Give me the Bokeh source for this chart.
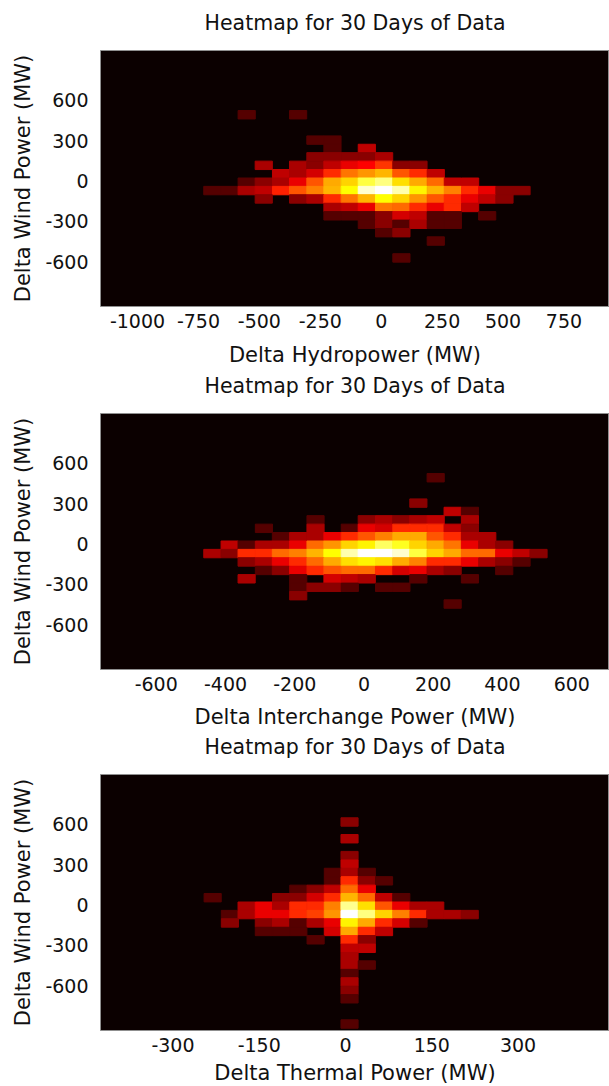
from bokeh.plotting import figure
from bokeh.models import ColumnDataSource, LogColorMapper, FixedTicker, Range1d, LinearAxis
from bokeh.layouts import column
from bokeh.embed import file_html
from bokeh.resources import INLINE

TITLE = "Heatmap for 30 Days of Data"
Y_LABEL = "Delta Wind Power (MW)"
X_LABELS = ["Delta Hydropower (MW)", "Delta Interchange Power (MW)", "Delta Thermal Power (MW)"]

# bin centres (MW)
wind_bins = [615, 553, 491, 428, 366, 303, 241, 179, 116, 54, -9, -71, -133,
             -196, -258, -321, -383, -445, -508, -570, -633, -695, -757, -820, -882]
wind_bin_height = 62.4
hydro_bins = [-693, -623, -552, -482, -411, -341, -270, -200, -129, -59,
              12, 83, 153, 224, 294, 365, 435, 506, 576, 647]
hydro_bin_width = 70.5
interchange_bins = [-438, -388, -339, -289, -240, -190, -140, -91, -41, 8,
                    58, 108, 157, 207, 256, 306, 356, 405, 455, 504]
interchange_bin_width = 49.6
thermal_bins = [-231, -201, -172, -142, -112, -82, -52, -22, 7, 37,
                67, 97, 127, 156, 186, 216, 246, 276, 306, 335]
thermal_bin_width = 29.8

wind_ticks = [-600, -300, 0, 300, 600]
hydro_ticks = [-1000, -750, -500, -250, 0, 250, 500, 750]
interchange_ticks = [-600, -400, -200, 0, 200, 400, 600]
thermal_ticks = [-300, -150, 0, 150, 300]

# counts: rows follow wind_bins (top to bottom), columns follow x bins
hydro_counts = [
    [0,0,0,0,0,0,0,0,0,0,0,0,0,0,0,0,0,0,0,0],
    [0,0,0,0,0,0,0,0,0,0,0,0,0,0,0,0,0,0,0,0],
    [0,0,1,0,0,1,0,0,0,0,0,0,0,0,0,0,0,0,0,0],
    [0,0,0,0,0,0,0,0,0,0,0,0,0,0,0,0,0,0,0,0],
    [0,0,0,0,0,0,0,0,0,0,0,0,0,0,0,0,0,0,0,0],
    [0,0,0,0,0,0,1,1,0,0,0,0,0,0,0,0,0,0,0,0],
    [0,0,0,0,0,0,0,1,0,4,0,0,0,0,0,0,0,0,0,0],
    [0,0,0,0,0,0,2,2,2,2,3,0,0,0,0,0,0,0,0,0],
    [0,0,0,3,0,3,2,4,6,7,12,2,2,0,0,0,0,0,0,0],
    [0,0,0,0,4,3,5,11,22,29,37,16,11,4,0,0,0,0,0,0],
    [0,0,1,2,3,6,16,33,48,107,156,56,33,19,4,4,0,0,0,0],
    [1,1,3,4,10,16,24,37,75,242,323,191,65,37,24,11,6,2,2,0],
    [0,0,0,2,0,2,3,11,22,37,75,48,29,16,11,6,4,2,0,0],
    [0,0,0,0,0,0,0,3,4,6,22,19,11,6,11,4,0,0,0,0],
    [0,0,0,0,0,0,0,1,1,1,2,5,4,1,1,0,1,0,0,0],
    [0,0,0,0,0,0,0,0,0,1,2,1,3,1,1,0,0,0,0,0],
    [0,0,0,0,0,0,0,0,0,0,1,2,0,0,0,0,0,0,0,0],
    [0,0,0,0,0,0,0,0,0,0,0,0,0,1,0,0,0,0,0,0],
    [0,0,0,0,0,0,0,0,0,0,0,0,0,0,0,0,0,0,0,0],
    [0,0,0,0,0,0,0,0,0,0,0,1,0,0,0,0,0,0,0,0],
    [0,0,0,0,0,0,0,0,0,0,0,0,0,0,0,0,0,0,0,0],
    [0,0,0,0,0,0,0,0,0,0,0,0,0,0,0,0,0,0,0,0],
    [0,0,0,0,0,0,0,0,0,0,0,0,0,0,0,0,0,0,0,0],
    [0,0,0,0,0,0,0,0,0,0,0,0,0,0,0,0,0,0,0,0],
    [0,0,0,0,0,0,0,0,0,0,0,0,0,0,0,0,0,0,0,0],
]

interchange_counts = [
    [0,0,0,0,0,0,0,0,0,0,0,0,0,0,0,0,0,0,0,0],
    [0,0,0,0,0,0,0,0,0,0,0,0,0,0,0,0,0,0,0,0],
    [0,0,0,0,0,0,0,0,0,0,0,0,0,1,0,0,0,0,0,0],
    [0,0,0,0,0,0,0,0,0,0,0,0,0,0,0,0,0,0,0,0],
    [0,0,0,0,0,0,0,0,0,0,0,0,0,0,0,0,0,0,0,0],
    [0,0,0,0,0,0,0,0,0,0,0,0,2,0,0,0,0,0,0,0],
    [0,0,0,0,0,0,0,0,0,0,0,0,0,0,4,1,0,0,0,0],
    [0,0,0,0,0,0,1,0,0,2,3,2,3,4,0,3,0,0,0,0],
    [0,0,0,1,0,0,3,0,1,6,5,11,11,11,4,2,0,0,0,0],
    [0,0,0,0,1,3,3,6,11,16,24,33,33,16,11,3,3,0,0,0],
    [0,4,1,3,3,6,19,29,48,63,127,90,48,33,22,6,3,2,0,0],
    [3,2,11,11,19,24,37,75,191,323,310,227,107,48,33,19,19,6,4,2],
    [0,0,2,3,6,11,19,33,56,65,56,33,24,11,11,6,3,2,1,0],
    [0,0,0,1,2,6,11,16,19,19,11,5,6,3,2,0,0,1,0,0],
    [0,0,3,0,0,1,0,5,4,3,0,0,1,0,0,1,0,0,0,0],
    [0,0,0,0,0,1,2,2,1,0,1,1,0,0,0,0,0,0,0,0],
    [0,0,0,0,0,2,0,0,0,0,0,0,0,0,0,0,0,0,0,0],
    [0,0,0,0,0,0,0,0,0,0,0,0,0,0,1,0,0,0,0,0],
    [0,0,0,0,0,0,0,0,0,0,0,0,0,0,0,0,0,0,0,0],
    [0,0,0,0,0,0,0,0,0,0,0,0,0,0,0,0,0,0,0,0],
    [0,0,0,0,0,0,0,0,0,0,0,0,0,0,0,0,0,0,0,0],
    [0,0,0,0,0,0,0,0,0,0,0,0,0,0,0,0,0,0,0,0],
    [0,0,0,0,0,0,0,0,0,0,0,0,0,0,0,0,0,0,0,0],
    [0,0,0,0,0,0,0,0,0,0,0,0,0,0,0,0,0,0,0,0],
    [0,0,0,0,0,0,0,0,0,0,0,0,0,0,0,0,0,0,0,0],
]

thermal_counts = [
    [0,0,0,0,0,0,0,0,2,0,0,0,0,0,0,0,0,0,0,0],
    [0,0,0,0,0,0,0,0,0,0,0,0,0,0,0,0,0,0,0,0],
    [0,0,0,0,0,0,0,0,3,0,0,0,0,0,0,0,0,0,0,0],
    [0,0,0,0,0,0,0,0,0,0,0,0,0,0,0,0,0,0,0,0],
    [0,0,0,0,0,0,0,0,2,0,0,0,0,0,0,0,0,0,0,0],
    [0,0,0,0,0,0,0,0,4,0,0,0,0,0,0,0,0,0,0,0],
    [0,0,0,0,0,0,0,1,3,1,0,0,0,0,0,0,0,0,0,0],
    [0,0,0,0,0,0,0,1,11,2,1,0,0,0,0,0,0,0,0,0],
    [0,0,0,0,0,1,2,4,19,6,0,0,0,0,0,0,0,0,0,0],
    [1,0,0,0,2,2,5,11,37,19,4,1,0,0,0,0,0,0,0,0],
    [0,0,3,6,3,11,11,24,170,56,16,6,3,3,0,0,0,0,0,0],
    [0,1,3,6,6,11,14,29,323,156,48,24,11,3,3,2,0,0,0,0],
    [0,2,0,2,3,1,3,6,65,33,11,5,1,0,0,0,0,0,0,0],
    [0,0,0,1,1,1,0,5,33,11,4,0,0,0,0,0,0,0,0,0],
    [0,0,0,0,0,0,1,0,11,2,0,0,0,0,0,0,0,0,0,0],
    [0,0,0,0,0,0,0,0,4,4,0,0,0,0,0,0,0,0,0,0],
    [0,0,0,0,0,0,0,0,3,0,0,0,0,0,0,0,0,0,0,0],
    [0,0,0,0,0,0,0,0,3,1,0,0,0,0,0,0,0,0,0,0],
    [0,0,0,0,0,0,0,0,1,0,0,0,0,0,0,0,0,0,0,0],
    [0,0,0,0,0,0,0,0,3,0,0,0,0,0,0,0,0,0,0,0],
    [0,0,0,0,0,0,0,0,2,0,0,0,0,0,0,0,0,0,0,0],
    [0,0,0,0,0,0,0,0,1,0,0,0,0,0,0,0,0,0,0,0],
    [0,0,0,0,0,0,0,0,0,0,0,0,0,0,0,0,0,0,0,0],
    [0,0,0,0,0,0,0,0,0,0,0,0,0,0,0,0,0,0,0,0],
    [0,0,0,0,0,0,0,0,1,0,0,0,0,0,0,0,0,0,0,0],
]


def hot_palette(m=64):
    n = int(3 * m / 8)
    cols = []
    for i in range(m):
        r = min(1.0, (i + 1) / n)
        g = min(1.0, max(0.0, (i + 1 - n) / n))
        b = max(0.0, (i + 1 - 2 * n) / (m - 2 * n))
        cols.append("#%02x%02x%02x" % (round(r * 255), round(g * 255), round(b * 255)))
    return cols


HOT = hot_palette(64)
FONT = "DejaVu Sans"
TXT = "#111111"


def style_axis(ax, label_size):
    ax.axis_line_color = None
    ax.major_tick_line_color = None
    ax.minor_tick_line_color = None
    ax.major_tick_in = 0
    ax.major_tick_out = 0
    ax.minor_tick_in = 0
    ax.minor_tick_out = 0
    ax.major_label_text_font = FONT
    ax.major_label_text_font_size = "19px"
    ax.major_label_text_color = TXT
    ax.axis_label_text_font = FONT
    ax.axis_label_text_font_size = label_size
    ax.axis_label_text_font_style = "normal"
    ax.axis_label_text_color = TXT


def make_panel(xlabel, x_bins, bin_w, counts, x_range, x_ticks, top, bottom,
               tick_standoff, label_standoff):
    p = figure(frame_width=509, frame_height=256, output_backend="svg", toolbar_location=None,
               x_range=Range1d(*x_range), y_range=Range1d(-930, 967),
               min_border_left=100, min_border_right=0,
               min_border_top=top, min_border_bottom=bottom)
    xs, ys, cs = [], [], []
    for i, yb in enumerate(wind_bins):
        for j, xb in enumerate(x_bins):
            c = counts[i][j]
            if c > 0:
                xs.append(xb)
                ys.append(yb)
                cs.append(c)
    src = ColumnDataSource(dict(x=xs, y=ys, count=cs, count1=[c + 1 for c in cs]))
    mapper = LogColorMapper(palette=HOT, low=1, high=max(cs) + 1)
    p.rect(x="x", y="y", width=bin_w, height=wind_bin_height, source=src,
           fill_color={"field": "count1", "transform": mapper},
           line_color={"field": "count1", "transform": mapper}, line_width=1)

    p.background_fill_color = HOT[0]
    p.border_fill_color = "white"
    p.outline_line_color = "#8f8f8f"
    p.grid.visible = False

    bx = p.below[0]
    ly = p.left[0]
    style_axis(bx, "21px")
    style_axis(ly, "21px")
    bx.ticker = FixedTicker(ticks=x_ticks)
    ly.ticker = FixedTicker(ticks=wind_ticks)
    bx.major_label_overrides = {t: str(t) for t in x_ticks}
    ly.major_label_overrides = {t: str(t) for t in wind_ticks}
    bx.axis_label = xlabel
    ly.axis_label = Y_LABEL
    bx.major_label_standoff = tick_standoff
    bx.axis_label_standoff = label_standoff
    ly.major_label_standoff = 12
    ly.axis_label_standoff = 7

    # chart title, set as the label of a tick-less axis above the frame
    title_ax = LinearAxis(ticker=FixedTicker(ticks=[]), axis_label=TITLE)
    style_axis(title_ax, "20.5px")
    title_ax.major_label_standoff = 0
    title_ax.axis_label_standoff = 16
    p.add_layout(title_ax, "above")
    return p


p1 = make_panel(X_LABELS[0], hydro_bins, hydro_bin_width, hydro_counts,
                (-1152, 937), hydro_ticks, 50, 40, 7, 12)
p2 = make_panel(X_LABELS[1], interchange_bins, interchange_bin_width, interchange_counts,
                (-761, 709), interchange_ticks, 44, 40, 7, 11)
p3 = make_panel(X_LABELS[2], thermal_bins, thermal_bin_width, thermal_counts,
                (-426, 459), thermal_ticks, 43, 40, 7, 6)

layout = column(p1, p2, p3, spacing=0)
open("out.html", "w").write(file_html(layout, INLINE))
